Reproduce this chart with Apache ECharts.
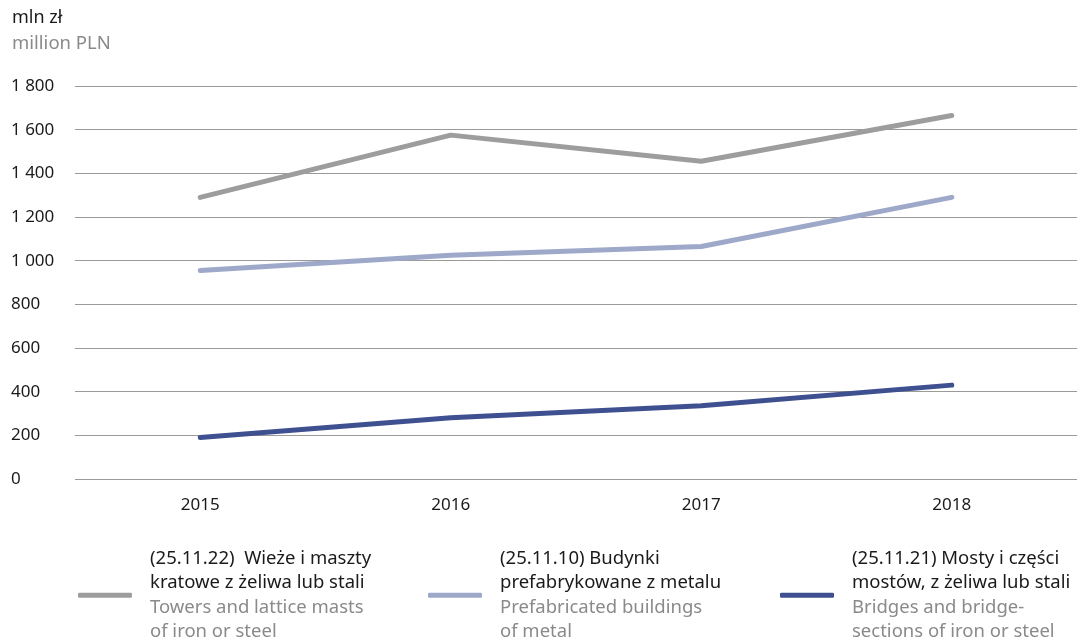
<!DOCTYPE html>
<html><head><meta charset="utf-8">
<script src="https://cdn.jsdelivr.net/npm/echarts@6/dist/echarts.min.js"></script>
<style>html,body{margin:0;padding:0;background:#fff}#c{width:1077px;height:640px}</style>
</head><body><div id="c"></div>
<script>
const categories = ['2015', '2016', '2017', '2018'];
const towers = [1290, 1575, 1455, 1665];
const prefab = [955, 1025, 1065, 1290];
const bridges = [190, 280, 335, 430];
const yTicks = { min: 0, max: 1800, interval: 200 };
const names = ['towers', 'prefab', 'bridges'];
const legendPl = ['(25.11.22)  Wieże i maszty', 'kratowe z żeliwa lub stali'];
const legendEn = ['Towers and lattice masts', 'of iron or steel'];
const legendPl2 = ['(25.11.10) Budynki', 'prefabrykowane z metalu'];
const legendEn2 = ['Prefabricated buildings', 'of metal'];
const legendPl3 = ['(25.11.21) Mosty i części', 'mostów, z żeliwa lub stali'];
const legendEn3 = ['Bridges and bridge-', 'sections of iron or steel'];
const colors = ['#9d9d9d', '#9ea8c9', '#3f5090'];

const FONT = '"Noto Sans", sans-serif';
const texts = {
  towers: [legendPl, legendEn],
  prefab: [legendPl2, legendEn2],
  bridges: [legendPl3, legendEn3]
};
function mkLegend(name, left) {
  return {
    data: [name],
    left: left, top: 544,
    icon: 'roundRect',
    itemWidth: 54, itemHeight: 5,
    formatter: function (n) {
      const t = texts[n];
      return t[0].map(s => '{a|' + s + '}').join('\n') + '\n' + t[1].map(s => '{b|' + s + '}').join('\n');
    },
    textStyle: {
      padding: [0, 0, 0, 13],
      rich: {
        a: { fontFamily: FONT, fontSize: 18.5, color: '#1a1a1a', lineHeight: 24.5 },
        b: { fontFamily: FONT, fontSize: 18.5, color: '#8a8a8a', lineHeight: 24.5 }
      }
    }
  };
}
const series = [towers, prefab, bridges].map((d, i) => ({
  name: names[i], type: 'line', data: d, showSymbol: false, symbol: 'none',
  lineStyle: { width: 5, color: colors[i], cap: 'round', join: 'round' },
  itemStyle: { color: colors[i] }, animation: false
}));
const chart = echarts.init(document.getElementById('c'));
chart.setOption({
  backgroundColor: '#fff',
  animation: false,
  grid: { left: 75, right: -2, top: 86, bottom: 161, containLabel: false },
  title: [
    { text: 'mln zł', left: 7, top: 4, textStyle: { fontFamily: FONT, fontSize: 18, fontWeight: 'normal', color: '#1a1a1a' } },
    { text: 'million PLN', left: 7, top: 29, textStyle: { fontFamily: FONT, fontSize: 18.5, fontWeight: 'normal', color: '#8a8a8a' } }
  ],
  legend: [mkLegend('towers', 73), mkLegend('prefab', 423), mkLegend('bridges', 775)],
  xAxis: {
    type: 'category', data: categories, boundaryGap: true,
    axisLine: { show: false }, axisTick: { show: false },
    axisLabel: { fontFamily: FONT, fontSize: 17, color: '#1a1a1a', margin: 18 }
  },
  yAxis: {
    type: 'value', min: yTicks.min, max: yTicks.max, interval: yTicks.interval,
    axisLine: { show: false }, axisTick: { show: false },
    splitLine: { lineStyle: { color: '#9a9a9a', width: 1 } },
    axisLabel: {
      fontFamily: FONT, fontSize: 17, color: '#1a1a1a', align: 'left', margin: 64,
      formatter: v => String(v).replace(/\B(?=(\d{3})+(?!\d))/g, ' ')
    }
  },
  series: series
});
</script></body></html>
